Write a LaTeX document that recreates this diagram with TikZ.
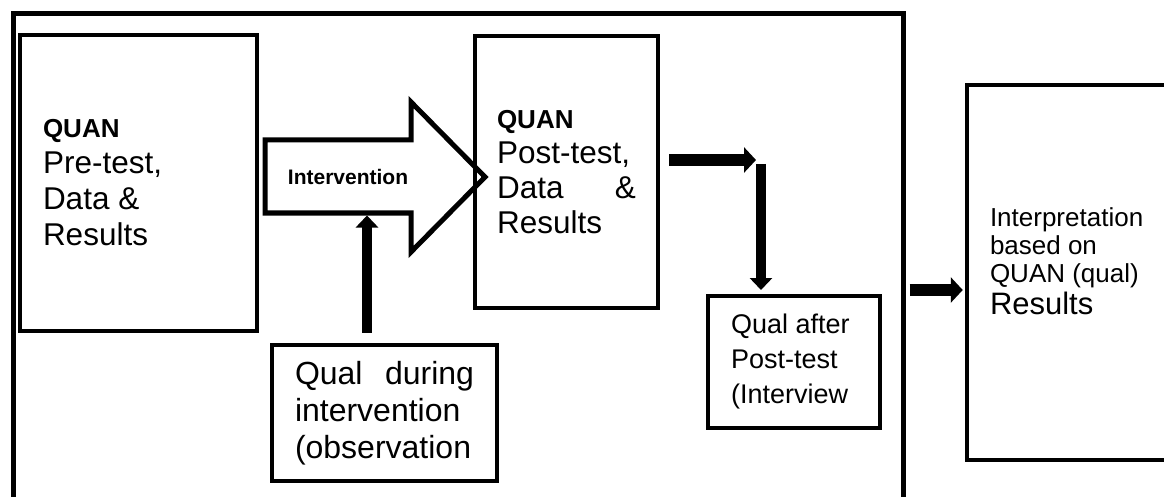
\documentclass[tikz,border=0pt]{standalone}
\usepackage{fontspec}
\setmainfont{Liberation Sans}
\usetikzlibrary{arrows.meta,calc}
\begin{document}
\begin{tikzpicture}[x=1pt,y=-1pt,
  box/.style={draw, line width=4.5pt, inner sep=0pt, align=flush left, anchor=center},
  fat/.style={line width=10pt, -{Triangle[length=12pt,width=22pt]}},
  fatter/.style={line width=12pt, -{Triangle[length=12pt,width=25pt]}},
  blockarrow/.style={draw, fill=white, line width=5pt, line join=miter},
]
\useasboundingbox[fill=white] (0,0) rectangle (1164,497);

% outer frame
\node[draw, line width=5pt, inner sep=0pt, minimum width=890pt, minimum height=506pt] (frame) at (458,267) {};

% QUAN pre-test
\node[box, minimum width=237pt, minimum height=296pt, text width=191pt, font=\fontsize{31.5}{36}\selectfont] (pre) at (138.5,183)
  {{\fontsize{26}{36}\selectfont\bfseries QUAN}\\Pre-test,\\Data \&\\Results};

% intervention block arrow
\draw[blockarrow] (265,140) -- (411,140) -- (411,102) -- (485,177) -- (411,252) -- (411,213) -- (265,213) -- cycle;
\node[font=\fontsize{21}{24}\selectfont\bfseries, inner sep=0pt] (interv) at (348,177) {Intervention};
\coordinate (ib) at (367,213);

% QUAN post-test
\node[box, minimum width=183pt, minimum height=272pt, text width=139pt, font=\fontsize{31.5}{35}\selectfont] (post) at (566.5,172)
  {{\fontsize{26}{35}\selectfont\bfseries QUAN}\\Post-test,\\Data\hfill\&\\Results};

% Qual during intervention
\node[box, minimum width=225pt, minimum height=136pt, text width=179pt, font=\fontsize{32}{37}\selectfont] (qd) at (384.5,413)
  {Qual\hfill during\\intervention\\(observation};

% Qual after post-test
\node[box, line width=4pt, minimum width=172pt, minimum height=132pt, text width=126pt, font=\fontsize{27}{35}\selectfont] (after) at (794,362)
  {Qual after\\Post-test\\(Interview};

% Interpretation
\node[box, minimum width=206pt, minimum height=375pt, text width=160pt, text depth=110pt, font=\fontsize{26}{28}\selectfont] (interp) at (1070,272.5)
  {Interpretation\\based on\\QUAN (qual)\\[4pt]{\fontsize{31}{32}\selectfont Results}};

% connectors
\coordinate (turn) at (761,160);
\coordinate (j) at (0,290);
\draw[fat] ($(qd.north -| ib)+(0,-10)$) -- ($(ib)+(0,2.5)$);
\draw[fatter] ($(post.east |- turn)+(9,0)$) -- ($(turn)+(-5,0)$);
\draw[fat] ($(turn)+(0,4)$) -- ($(after.north -| turn)+(0,-4)$);
\draw[fatter] ($(frame.east |- j)+(4,0)$) -- ($(interp.west |- j)+(-2,0)$);
\end{tikzpicture}
\end{document}
